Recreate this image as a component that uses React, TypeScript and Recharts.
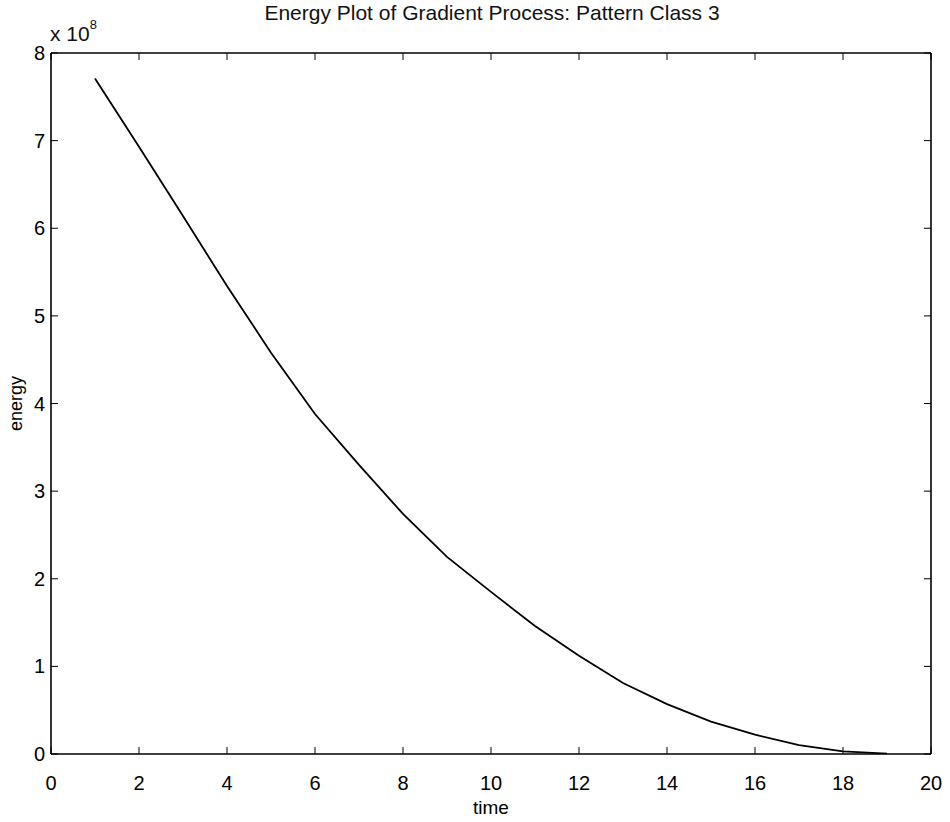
import React from "react";
import {
  LineChart,
  Line,
  XAxis,
  YAxis,
  Label,
} from "recharts";

// time steps and energy (in units of 10^8)
const times = [1, 2, 3, 4, 5, 6, 7, 8, 9, 10, 11, 12, 13, 14, 15, 16, 17, 18, 19];
const energy = [
  7.71, 6.93, 6.14, 5.34, 4.58, 3.88, 3.3, 2.74, 2.25, 1.85, 1.46, 1.12, 0.81,
  0.57, 0.37, 0.22, 0.1, 0.03, 0.005,
];
const xTicks = [0, 2, 4, 6, 8, 10, 12, 14, 16, 18, 20];
const yTicks = [0, 1, 2, 3, 4, 5, 6, 7, 8];

const data = times.map((t, i) => ({ time: t, energy: energy[i] }));

const font = "'Liberation Sans', Arial, Helvetica, sans-serif";
const TICK = 7;
const X_GAP = 22;
const Y_GAP = 6;

// matlab style: tick marks point into the plot box
const BottomTick = (props: any) => {
  const { x, y, payload } = props;
  const ay = y - X_GAP;
  return (
    <g>
      <line x1={x} x2={x} y1={ay} y2={ay - TICK} stroke="#000" />
      <text x={x} y={ay + X_GAP + 14} textAnchor="middle" fontSize={20} fill="#000">
        {payload.value}
      </text>
    </g>
  );
};

const TopTick = (props: any) => {
  const { x, y } = props;
  return <line x1={x} x2={x} y1={y} y2={y + TICK} stroke="#000" />;
};

const LeftTick = (props: any) => {
  const { x, y, payload } = props;
  const ax = x + Y_GAP;
  return (
    <g>
      <line x1={ax} x2={ax + TICK} y1={y} y2={y} stroke="#000" />
      <text x={x} y={y + 7} textAnchor="end" fontSize={20} fill="#000">
        {payload.value}
      </text>
    </g>
  );
};

const RightTick = (props: any) => {
  const { x, y } = props;
  return <line x1={x} x2={x - TICK} y1={y} y2={y} stroke="#000" />;
};

const axisLine = { stroke: "#000", strokeWidth: 1.6 };

export default function App() {
  return (
    <div
      style={{
        position: "absolute",
        left: 0,
        top: 0,
        width: 950,
        height: 822,
        background: "#fff",
        fontFamily: font,
      }}
    >
      <div
        style={{
          position: "absolute",
          left: 0,
          width: 984,
          top: 1,
          textAlign: "center",
          fontSize: 21,
          color: "#111",
        }}
      >
        Energy Plot of Gradient Process: Pattern Class 3
      </div>
      <div
        style={{
          position: "absolute",
          left: 50,
          top: 17,
          fontSize: 21,
          color: "#111",
          lineHeight: "24px",
        }}
      >
        x 10<sup style={{ fontSize: 13, position: "relative", top: -4 }}>8</sup>
      </div>
      <LineChart
        width={950}
        height={822}
        data={data}
        margin={{ top: 52, right: 18, bottom: 0, left: 0 }}
        style={{ fontFamily: font }}
      >
        <XAxis
          dataKey="time"
          type="number"
          domain={[0, 20]}
          ticks={xTicks}
          height={68}
          tickSize={0}
          tickMargin={X_GAP}
          axisLine={axisLine}
          tickLine={false}
          tick={<BottomTick />}
          allowDataOverflow
        >
          <Label
            value="time"
            position="insideBottom"
            offset={8}
            style={{ fill: "#000", fontSize: 19 }}
          />
        </XAxis>
        <XAxis
          xAxisId="top"
          dataKey="time"
          orientation="top"
          type="number"
          domain={[0, 20]}
          ticks={xTicks}
          height={1}
          tickSize={0}
          tickMargin={0}
          tick={<TopTick />}
          tickLine={false}
          axisLine={axisLine}
          allowDataOverflow
        />
        <YAxis
          type="number"
          domain={[0, 8]}
          ticks={yTicks}
          width={51}
          tickSize={0}
          tickMargin={Y_GAP}
          axisLine={axisLine}
          tickLine={false}
          tick={<LeftTick />}
          allowDataOverflow
        >
          <Label
            value="energy"
            angle={-90}
            position="insideLeft"
            offset={16}
            style={{ fill: "#000", fontSize: 18, textAnchor: "middle" }}
          />
        </YAxis>
        <YAxis
          yAxisId="right"
          orientation="right"
          type="number"
          domain={[0, 8]}
          ticks={yTicks}
          width={1}
          tickSize={0}
          tickMargin={0}
          tick={<RightTick />}
          tickLine={false}
          axisLine={axisLine}
          allowDataOverflow
        />
        <Line
          dataKey="energy"
          type="linear"
          stroke="#000"
          strokeWidth={1.8}
          dot={false}
          isAnimationActive={false}
        />
        <Line
          xAxisId="top"
          yAxisId="right"
          dataKey="energy"
          stroke="none"
          dot={false}
          legendType="none"
          isAnimationActive={false}
        />
      </LineChart>
    </div>
  );
}
